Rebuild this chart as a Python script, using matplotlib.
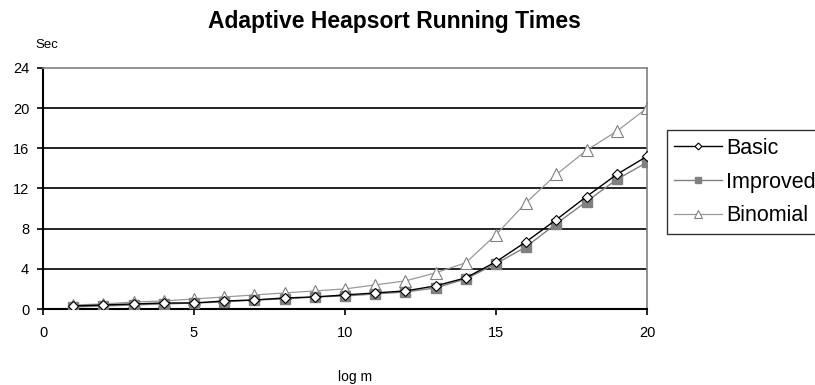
import matplotlib.pyplot as plt

plt.rcParams['font.family'] = ['Liberation Sans', 'DejaVu Sans']

# running times (seconds) against log m
log_m = list(range(1, 21))
basic = [0.3, 0.4, 0.5, 0.6, 0.6, 0.8, 0.9, 1.1, 1.2, 1.4,
         1.6, 1.8, 2.3, 3.1, 4.7, 6.7, 8.9, 11.2, 13.4, 15.2]
improved = [0.2, 0.3, 0.4, 0.5, 0.6, 0.7, 0.9, 1.0, 1.2, 1.3,
            1.5, 1.7, 2.1, 3.0, 4.5, 6.2, 8.5, 10.7, 12.9, 14.6]
binomial = [0.4, 0.5, 0.7, 0.8, 1.0, 1.2, 1.4, 1.6, 1.8, 2.0,
            2.4, 2.8, 3.6, 4.6, 7.4, 10.6, 13.4, 15.8, 17.7, 20.0]

fig = plt.figure(figsize=(8.15, 3.85), dpi=100)
ax = fig.add_axes([0.0528, 0.1974, 0.741, 0.626])

# horizontal gridlines drawn as black rules
for yv in range(4, 24, 4):
    ax.axhline(yv, color='black', lw=1.2, zorder=1)

ax.plot(log_m, basic, color='black', lw=1.0, marker='D', ms=5,
        mfc='white', mec='black', mew=0.8, label='Basic', zorder=4)
ax.plot(log_m, improved, color='#808080', lw=1.0, marker='s', ms=6.5,
        mfc='#808080', mec='#808080', label='Improved', zorder=3)
ax.plot(log_m, binomial, color='#999999', lw=0.9, marker='^', ms=8,
        mfc='white', mec='#808080', mew=0.8, label='Binomial', zorder=2)

ax.set_xlim(0, 20)
ax.set_ylim(0, 24)
ax.set_xticks(range(0, 21, 5))
ax.set_yticks(range(0, 25, 4))
ax.tick_params(direction='out', length=4, width=1.2, labelsize=10.5, color='black')
ax.tick_params(axis='x', pad=8)
ax.tick_params(axis='y', pad=6)
for s in ['left', 'bottom']:
    ax.spines[s].set_color('black')
    ax.spines[s].set_linewidth(1.5)
for s in ['top', 'right']:
    ax.spines[s].set_color('#808080')
    ax.spines[s].set_linewidth(1.2)

fig.text(0.484, 0.945, 'Adaptive Heapsort Running Times', ha='center', va='center',
         fontsize=16.5, fontweight='bold')
fig.text(0.057, 0.884, 'Sec', ha='center', va='center', fontsize=9.5)
fig.text(0.436, 0.022, 'log m', ha='center', va='center', fontsize=10)

leg = ax.legend(loc='upper left', bbox_to_anchor=(0.818, 0.662),
                bbox_transform=fig.transFigure, fontsize=15.5, frameon=True,
                fancybox=False, edgecolor='black', handlelength=2.2,
                handletextpad=0.2, borderpad=0.35, labelspacing=0.6,
                borderaxespad=0, markerscale=0.7)
leg.get_frame().set_linewidth(1.0)

fig.savefig('out.png', dpi=100)
